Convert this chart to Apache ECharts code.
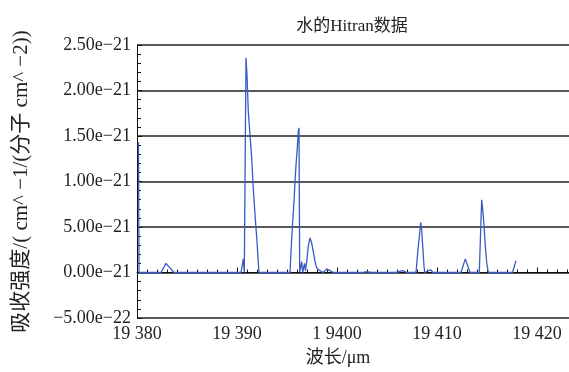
<!DOCTYPE html>
<html><head><meta charset="utf-8">
<script src="https://cdn.jsdelivr.net/npm/echarts@6/dist/echarts.min.js"></script>
<style>html,body{margin:0;padding:0;background:#fff}#c{width:569px;height:372px}</style>
</head><body><div id="c"></div>
<script>
// wavenumber positions (axis units)
var wavenumbers = [19380.15,19380.2,19382.4,19382.9,19383.7,19390.4,19390.63,19390.73,19390.83,19390.9,
  19391.0,19391.13,19391.3,19391.47,19391.6,19391.73,19391.87,19392.0,19392.13,19392.2,
  19395.3,19395.47,19395.57,19395.7,19395.8,19395.9,19396.03,19396.13,19396.2,19396.27,
  19396.47,19396.57,19396.75,19396.85,19397.0,19397.13,19397.3,19397.45,19397.63,19397.8,19397.97,
  19398.3,19398.63,19398.97,19399.13,19399.3,19399.63,
  19402.6,19403.0,19403.4,19405.9,19406.57,19407.0,
  19407.9,19408.13,19408.3,19408.37,19408.47,19408.57,19408.7,19408.77,19409.37,19409.6,
  19412.4,19412.83,19413.3,
  19414.23,19414.4,19414.47,19414.57,19414.7,19414.83,19414.97,19415.13,
  19417.55,19417.9];
// absorption intensity in units of 1e-21
var intensities = [1.43,0,0,0.10,0,0,0.15,0,0,2.36,
  2.17,1.77,1.51,1.26,0.97,0.75,0.53,0.34,0.11,0,
  0,0.38,0.56,0.78,1.0,1.18,1.37,1.55,1.59,0,
  0.12,0,0.10,0.02,0.15,0.29,0.38,0.33,0.23,0.12,0.05,
  0.02,0,0.04,0.03,0.02,0,
  0,0.01,0,0,0.02,0,
  0,0.29,0.47,0.55,0.47,0.29,0.07,0,0.03,0,
  0,0.15,0,
  0,0.58,0.80,0.70,0.52,0.29,0.11,0,
  0,0.13];
var xTickValues = [19380,19390,19400,19410,19420];
var xTickLabels = ['19 380','19 390','1 9400','19 410','19 420'];
var yTickValues = [-0.5,0,0.5,1,1.5,2,2.5];
var yTickLabels = ['\u22125.00e\u221222','0.00e\u221221','5.00e\u221221','1.00e\u221221','1.50e\u221221','2.00e\u221221','2.50e\u221221'];

var seriesData = wavenumbers.map(function(w,i){return [w,intensities[i]];});
var font = "'Liberation Serif','Noto Sans CJK SC',serif";
function lookup(vals,labels,v){
  for(var i=0;i<vals.length;i++){ if(Math.abs(vals[i]-v)<1e-6) return labels[i]; }
  return '';
}
var chart = echarts.init(document.getElementById('c'),null,{renderer:'canvas'});
chart.setOption({
  animation:false,
  backgroundColor:'#fff',
  title:{text:'水的Hitran数据',left:347,textAlign:'center',top:13,
    textStyle:{fontFamily:font,fontSize:17,fontWeight:'normal',color:'#222'}},
  grid:{left:137,right:0,top:45,bottom:44},
  xAxis:{type:'value',min:19380,max:19423.2,interval:10,
    name:'波长/μm',nameLocation:'middle',nameGap:31,
    nameTextStyle:{fontFamily:font,fontSize:18,color:'#222',padding:[0,30,0,0]},
    axisLine:{show:true,lineStyle:{color:'#111',width:1}},
    axisTick:{show:true,inside:true,length:5,lineStyle:{color:'#111'}},
    minorTick:{show:true,splitNumber:10,length:3,lineStyle:{color:'#111'}},
    splitLine:{show:false},
    axisLabel:{fontFamily:font,fontSize:18,color:'#222',margin:7,showMaxLabel:false,
      formatter:function(v){return lookup(xTickValues,xTickLabels,v);}}
  },
  yAxis:{type:'value',min:-0.5,max:2.5,interval:0.5,
    name:'吸收强度/( cm^ \u22121/(分子 cm^ \u22122))',nameLocation:'middle',nameGap:105,
    nameTextStyle:{fontFamily:font,fontSize:21,color:'#222'},
    axisLine:{show:true,lineStyle:{color:'#111',width:1}},
    axisTick:{show:true,inside:true,length:5,lineStyle:{color:'#111'}},
    minorTick:{show:true,splitNumber:5,length:4,lineStyle:{color:'#111'}},
    splitLine:{show:true,lineStyle:{color:'#222',width:1.5}},
    axisLabel:{fontFamily:font,fontSize:18,color:'#222',margin:6,
      formatter:function(v){return lookup(yTickValues,yTickLabels,v);}}
  },
  series:[{type:'line',data:seriesData,symbol:'none',clip:false,
    lineStyle:{color:'#3a5cc2',width:1.3},z:5}]
});
</script></body></html>
